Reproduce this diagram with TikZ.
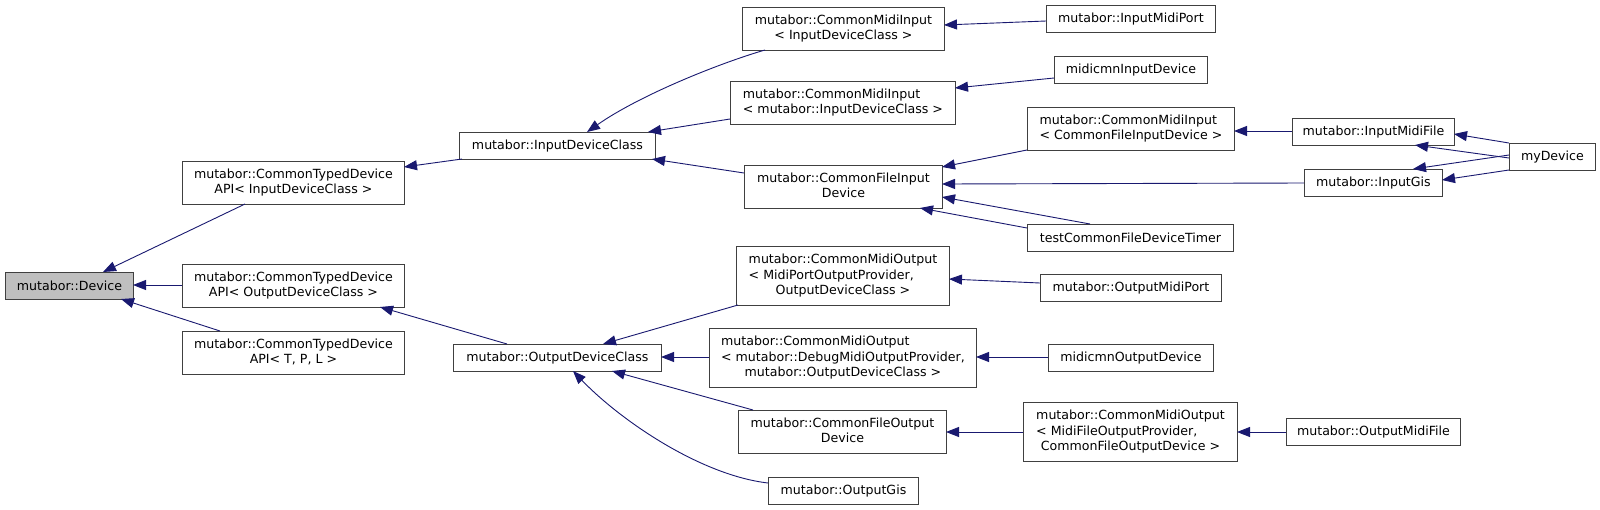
\documentclass[tikz,border=0pt]{standalone}
\usepackage{fontspec}
\setmainfont{DejaVu Sans}
\usetikzlibrary{arrows.meta,calc}
\definecolor{edgeblue}{HTML}{191970}
\definecolor{boxline}{HTML}{404040}
\definecolor{rootfill}{HTML}{BFBFBF}
\begin{document}
\begin{tikzpicture}[x=1pt,y=-1pt,
  cls/.style={draw=boxline, line width=0.9pt, rectangle, inner sep=0pt, anchor=north west,
    font=\fontsize{12.6}{15.7}\selectfont, align=center},
  edge/.style={draw=edgeblue, line width=0.9pt, -{Triangle[length=13pt,width=10pt]}}]
\fill[white] (0,0) rectangle (1600,509);
\useasboundingbox (0,0) rectangle (1600,509);
% nodes
\node[cls,minimum width=128pt,minimum height=27pt,fill=rootfill] (dev) at (5,272) {mutabor::Device};
\node[cls,minimum width=222pt,minimum height=43pt] (ctdi) at (182,161) {\begin{tabular}{@{}c@{}}mutabor::CommonTypedDevice\\API< InputDeviceClass >\end{tabular}};
\node[cls,minimum width=222pt,minimum height=43pt] (ctdo) at (182,264) {\begin{tabular}{@{}c@{}}mutabor::CommonTypedDevice\\API< OutputDeviceClass >\end{tabular}};
\node[cls,minimum width=222pt,minimum height=43pt] (ctdt) at (182,331) {\begin{tabular}{@{}c@{}}mutabor::CommonTypedDevice\\API< T, P, L >\end{tabular}};
\node[cls,minimum width=196pt,minimum height=27pt] (idc) at (459,132) {mutabor::InputDeviceClass};
\node[cls,minimum width=208pt,minimum height=27pt] (odc) at (453,344) {mutabor::OutputDeviceClass};
\node[cls,minimum width=202pt,minimum height=43pt] (cmii) at (742,7) {\begin{tabular}{@{}c@{}}mutabor::CommonMidiInput\\< InputDeviceClass >\end{tabular}};
\node[cls,minimum width=225pt,minimum height=43pt] (cmim) at (730,81) {\begin{tabular}{@{}l@{}}mutabor::CommonMidiInput\\< mutabor::InputDeviceClass >\end{tabular}};
\node[cls,minimum width=198pt,minimum height=43pt] (cfi) at (744,165) {\begin{tabular}{@{}c@{}}mutabor::CommonFileInput\\Device\end{tabular}};
\node[cls,minimum width=213pt,minimum height=59pt] (cmop) at (736,246) {\begin{tabular}{@{}l@{}}mutabor::CommonMidiOutput\\< MidiPortOutputProvider,\\\multicolumn{1}{@{}c@{}}{OutputDeviceClass >}\end{tabular}};
\node[cls,minimum width=267pt,minimum height=59pt] (cmod) at (709,328) {\begin{tabular}{@{}l@{}}mutabor::CommonMidiOutput\\< mutabor::DebugMidiOutputProvider,\\\multicolumn{1}{@{}c@{}}{mutabor::OutputDeviceClass >}\end{tabular}};
\node[cls,minimum width=208pt,minimum height=43pt] (cfo) at (738,410) {\begin{tabular}{@{}c@{}}mutabor::CommonFileOutput\\Device\end{tabular}};
\node[cls,minimum width=150pt,minimum height=27pt] (ogis) at (768,477) {mutabor::OutputGis};
\node[cls,minimum width=169pt,minimum height=27pt] (imp) at (1046,5) {mutabor::InputMidiPort};
\node[cls,minimum width=153pt,minimum height=27pt] (mid) at (1054,56) {midicmnInputDevice};
\node[cls,minimum width=207pt,minimum height=43pt] (cmicf) at (1027,107) {\begin{tabular}{@{}l@{}}mutabor::CommonMidiInput\\< CommonFileInputDevice >\end{tabular}};
\node[cls,minimum width=206pt,minimum height=27pt] (tcfdt) at (1027,224) {testCommonFileDeviceTimer};
\node[cls,minimum width=181pt,minimum height=27pt] (omp) at (1040,274) {mutabor::OutputMidiPort};
\node[cls,minimum width=165pt,minimum height=27pt] (mod) at (1048,344) {midicmnOutputDevice};
\node[cls,minimum width=214pt,minimum height=59pt] (cmof) at (1023,402) {\begin{tabular}{@{}l@{}}mutabor::CommonMidiOutput\\< MidiFileOutputProvider,\\\multicolumn{1}{@{}c@{}}{CommonFileOutputDevice >}\end{tabular}};
\node[cls,minimum width=162pt,minimum height=27pt] (imf) at (1292,118) {mutabor::InputMidiFile};
\node[cls,minimum width=138pt,minimum height=27pt] (igis) at (1304,169) {mutabor::InputGis};
\node[cls,minimum width=86pt,minimum height=27pt] (mydev) at (1509,143) {myDevice};
\node[cls,minimum width=174pt,minimum height=27pt] (omf) at (1286,418) {mutabor::OutputMidiFile};
% edges
\draw[edge] ($(ctdi.north west)+(63,43)$) -- ($(dev.north west)+(98,0)$);
\draw[edge] ($(ctdo.north west)+(0,21)$) -- ($(dev.north west)+(128,13)$);
\draw[edge] ($(ctdt.north west)+(38,0)$) -- ($(dev.north west)+(116,27)$);
\draw[edge] ($(idc.north west)+(3,27)$) -- ($(ctdi.north west)+(222,6)$);
\draw[edge] ($(odc.north west)+(54,0)$) -- ($(ctdo.north west)+(198,43)$);
\draw[edge] ($(cmii.north west)+(23,43)$) .. controls (720,63) and (640,95) .. ($(idc.north west)+(128,0)$);
\draw[edge] ($(cmim.north west)+(0,38)$) -- ($(idc.north west)+(189,0)$);
\draw[edge] ($(cfi.north west)+(0,8)$) -- ($(idc.north west)+(193,27)$);
\draw[edge] ($(imp.north west)+(0,16)$) -- ($(cmii.north west)+(202,18)$);
\draw[edge] ($(mid.north west)+(0,22)$) -- ($(cmim.north west)+(225,7)$);
\draw[edge] ($(cmicf.north west)+(0,43)$) -- ($(cfi.north west)+(198,2)$);
\draw[edge] ($(igis.north west)+(0,14)$) -- ($(cfi.north west)+(198,19)$);
\draw[edge] ($(tcfdt.north west)+(63,0)$) -- ($(cfi.north west)+(198,32)$);
\draw[edge] ($(tcfdt.north west)+(0,4)$) -- ($(cfi.north west)+(176,43)$);
\draw[edge] ($(imf.north west)+(0,13)$) -- ($(cmicf.north west)+(207,24)$);
\draw[edge] ($(mydev.north west)+(0,0)$) -- ($(imf.north west)+(162,16)$);
\draw[edge] ($(mydev.north west)+(0,15)$) -- ($(imf.north west)+(123,27)$);
\draw[edge] ($(mydev.north west)+(0,12)$) -- ($(igis.north west)+(109,0)$);
\draw[edge] ($(mydev.north west)+(0,27)$) -- ($(igis.north west)+(138,11)$);
\draw[edge] ($(cmop.north west)+(2,59)$) -- ($(odc.north west)+(150,0)$);
\draw[edge] ($(cmod.north west)+(0,29)$) -- ($(odc.north west)+(208,13)$);
\draw[edge] ($(cfo.north west)+(15,0)$) -- ($(odc.north west)+(159,27)$);
\draw[edge] ($(ogis.north west)+(0,6)$) .. controls (700,475) and (620,420) .. ($(odc.north west)+(120,27)$);
\draw[edge] ($(omp.north west)+(0,9)$) -- ($(cmop.north west)+(213,33)$);
\draw[edge] ($(mod.north west)+(0,13)$) -- ($(cmod.north west)+(267,29)$);
\draw[edge] ($(cmof.north west)+(0,30)$) -- ($(cfo.north west)+(208,22)$);
\draw[edge] ($(omf.north west)+(0,14)$) -- ($(cmof.north west)+(214,30)$);
\end{tikzpicture}
\end{document}
